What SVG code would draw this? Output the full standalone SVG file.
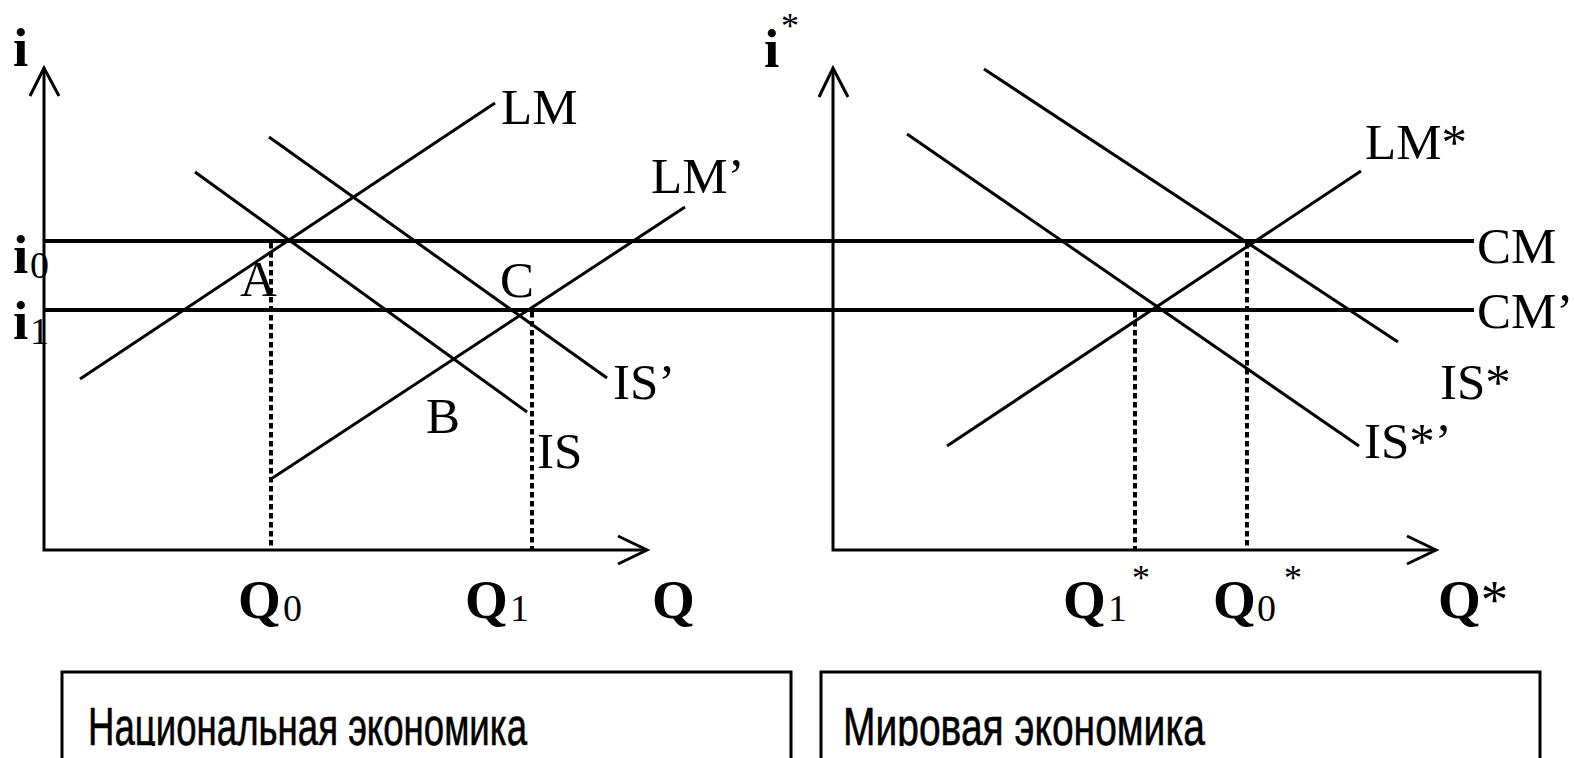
<svg xmlns="http://www.w3.org/2000/svg" width="1574" height="758" viewBox="0 0 1574 758">
<style>
.ax{stroke:#000;stroke-width:3;fill:none;stroke-linecap:butt}
.ln{stroke:#000;stroke-width:3;fill:none}
.cm{stroke:#000;stroke-width:4;fill:none}
.dot{stroke:#000;stroke-width:4;fill:none;stroke-dasharray:5.5 3.5}
.lb{font-family:"Liberation Serif","Times New Roman",serif;font-size:51px;fill:#000}
.bq{font-family:"Liberation Serif","Times New Roman",serif;font-size:55px;font-weight:bold;fill:#000}
.bi{font-family:"Liberation Serif","Times New Roman",serif;font-size:55px;font-weight:bold;fill:#000}
.sub{font-family:"Liberation Serif","Times New Roman",serif;font-size:38px;fill:#000}
.st{font-family:"Liberation Serif","Times New Roman",serif;font-size:36px;fill:#000}
.bx{stroke:#000;stroke-width:3;fill:#fff}
.cap{font-family:"Liberation Sans",Arial,sans-serif;font-size:53px;fill:#000;stroke:#000;stroke-width:0.6}
</style>
<defs>
  <clipPath id="capclip"><rect x="0" y="660" width="1574" height="86"/></clipPath>
</defs>
<rect width="1574" height="758" fill="#fff"/>
<g id="connectors">
  <path class="ax" d="M44,68 V550 H647"/>
  <path class="ax" d="M30,96 L44,68 L59,96"/>
  <path class="ax" d="M618,536 L647,550 L618,564"/>
  <path class="ax" d="M833,68 V550 H1436"/>
  <path class="ax" d="M819,97 L833,68 L848,97"/>
  <path class="ax" d="M1407,536 L1436,550 L1407,564"/>
  <line class="cm" x1="44" y1="241" x2="1474" y2="241"/>
  <line class="cm" x1="44" y1="310" x2="1474" y2="310"/>
  <line class="ln" x1="80" y1="379" x2="495" y2="103"/>
  <line class="ln" x1="195" y1="172" x2="527" y2="412"/>
  <line class="ln" x1="269" y1="137" x2="607" y2="378"/>
  <line class="ln" x1="271" y1="479" x2="685" y2="207"/>
  <line class="dot" x1="271" y1="243" x2="271" y2="550"/>
  <line class="dot" x1="532" y1="312" x2="532" y2="550"/>
  <line class="ln" x1="984" y1="69" x2="1398" y2="342"/>
  <line class="ln" x1="907" y1="134" x2="1359" y2="446"/>
  <line class="ln" x1="947" y1="446" x2="1361" y2="171"/>
  <line class="dot" x1="1135" y1="312" x2="1135" y2="550"/>
  <line class="dot" x1="1247" y1="243" x2="1247" y2="550"/>
</g>
<g id="left-axis-labels">
  <text class="bi" x="13" y="66">i</text>
  <text class="bi" x="13" y="273">i</text><text class="sub" x="30" y="278">0</text>
  <text class="bi" x="13" y="339">i</text><text class="sub" x="30" y="344">1</text>
  <text class="bq" x="238" y="618">Q</text><text class="sub" x="283" y="621">0</text>
  <text class="bq" x="465" y="618">Q</text><text class="sub" x="510" y="621">1</text>
  <text class="bq" x="652" y="618">Q</text>
</g>
<g id="left-curve-labels">
  <text class="lb" x="501" y="124">LM</text>
  <text class="lb" x="651" y="193">LM’</text>
  <text class="lb" x="240" y="296">A</text>
  <text class="lb" x="500" y="297">C</text>
  <text class="lb" x="426" y="433">B</text>
  <text class="lb" x="613" y="399">IS’</text>
  <text class="lb" x="537" y="468">IS</text>
</g>
<g id="right-axis-labels">
  <text class="bi" x="764" y="67">i</text><text class="st" x="781" y="38">*</text>
  <text class="bq" x="1063" y="618">Q</text><text class="sub" x="1108" y="621">1</text><text class="st" x="1132" y="590">*</text>
  <text class="bq" x="1213" y="618">Q</text><text class="sub" x="1257" y="621">0</text><text class="st" x="1284" y="590">*</text>
  <text class="bq" x="1438" y="618">Q<tspan class="lb" style="font-weight:normal;font-size:55px">*</tspan></text>
</g>
<g id="right-curve-labels">
  <text class="lb" x="1477" y="263">CM</text>
  <text class="lb" x="1477" y="328">CM’</text>
  <text class="lb" x="1365" y="159">LM*</text>
  <text class="lb" x="1440" y="399">IS*</text>
  <text class="lb" x="1364" y="458">IS*’</text>
</g>
<g id="box-national">
  <rect class="bx" x="62" y="672" width="729" height="100"/>
  <text class="cap" x="88" y="745" textLength="439" lengthAdjust="spacingAndGlyphs" clip-path="url(#capclip)">Национальная экономика</text>
</g>
<g id="box-world">
  <rect class="bx" x="821" y="672" width="719" height="100"/>
  <text class="cap" x="843" y="745" textLength="362" lengthAdjust="spacingAndGlyphs" clip-path="url(#capclip)">Мировая экономика</text>
</g>
</svg>
